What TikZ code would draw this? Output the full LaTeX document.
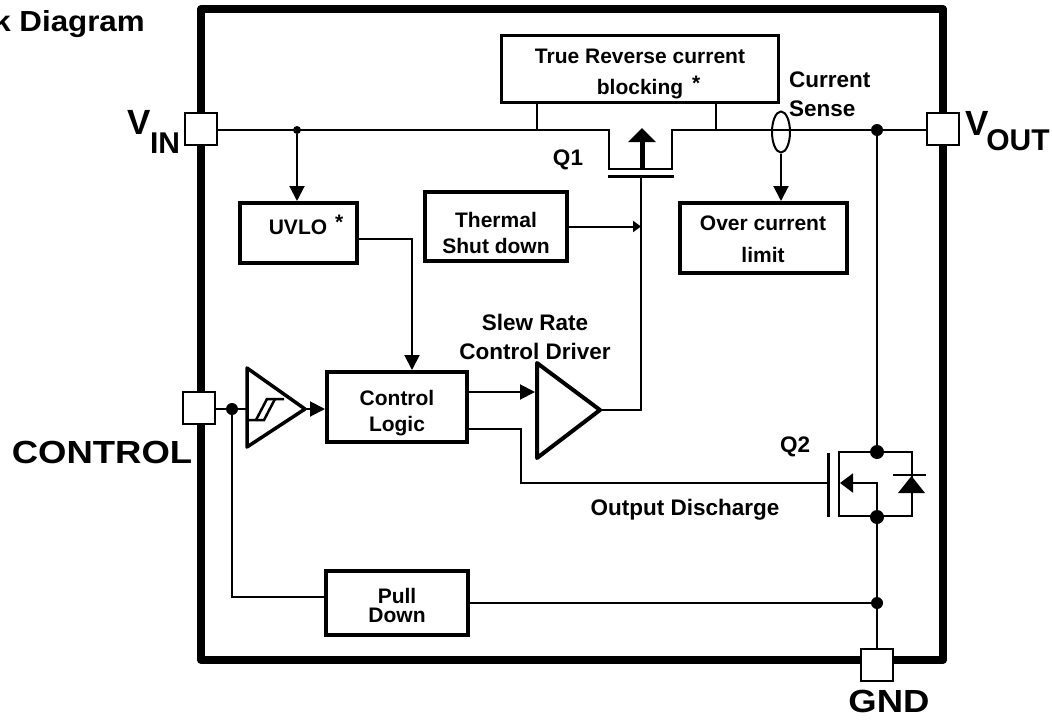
\documentclass[tikz,border=0pt]{standalone}
\usepackage{fontspec}
\setmainfont{Liberation Sans}
\usepackage{graphicx}
\usetikzlibrary{arrows.meta,shapes.geometric}
\begin{document}
\begin{tikzpicture}[x=1pt,y=-1pt,
  wire/.style={line width=2pt},
  arr/.style={-{Triangle[length=15pt,width=15pt]}},
  blk/.style={draw,line width=4pt,inner sep=0pt},
  txt/.style={inner sep=0pt,align=center},
  pin/.style={draw,fill=white,line width=2pt,minimum size=32pt,inner sep=0pt},
  jdot/.style={circle,fill,inner sep=0pt,minimum size=12pt},
  lbl/.style={inner sep=0pt,align=center,font=\fontsize{22.5}{29}\selectfont\bfseries},
  big/.style={inner sep=0pt,font=\fontsize{32}{32}\selectfont\bfseries}]
\useasboundingbox (0,0) rectangle (1052,720);
\fill[white] (0,0) rectangle (1052,720);

% title fragment
\node[inner sep=0pt,anchor=base east,font=\fontsize{29}{29}\selectfont\bfseries] (title) at (145,31) {\scalebox{1.08}[1]{k Diagram}};

% chip outline
\draw[line width=8pt,line join=round] (201,9) rectangle (943,660);

% blocks
\node[blk,line width=3pt,minimum width=277pt,minimum height=67pt] (trb) at (639.5,68.5) {};
\node[txt,font=\fontsize{21}{31}\selectfont\bfseries] (trbt) at (640,74) {True Reverse current\\blocking\rlap{\hspace{9pt}\raisebox{4pt}{*}}};
\node[blk,minimum width=117pt,minimum height=60pt] (uvlo) at (298.5,233) {};
\node[txt,font=\fontsize{21}{26}\selectfont\bfseries] (uvlot) at (298,224.5) {UVLO\rlap{\hspace{8pt}\raisebox{5pt}{*}}};
\node[blk,minimum width=142pt,minimum height=69pt] (therm) at (496,226.5) {};
\node[txt,font=\fontsize{21}{26}\selectfont\bfseries] (thermt) at (496,232.5) {Thermal\\Shut down};
\node[blk,minimum width=167pt,minimum height=70pt] (ocl) at (763.5,238) {};
\node[txt,font=\fontsize{21}{32}\selectfont\bfseries] (oclt) at (763,239) {Over current\\limit};
\node[blk,minimum width=140pt,minimum height=70pt] (ctl) at (397,407) {};
\node[txt,font=\fontsize{21}{26}\selectfont\bfseries] (ctlt) at (397,413.5) {Control\\Logic};
\node[blk,minimum width=142pt,minimum height=64pt] (pd) at (397,603) {};
\node[txt,font=\fontsize{21}{19}\selectfont\bfseries] (pdt) at (397,605) {Pull\\Down};

% driver triangle
\coordinate (drvA) at (537,363);
\coordinate (drvout) at (600,410);
\coordinate (drvB) at (537,458);
\draw[line width=4pt,line join=round] (drvA) -- (drvout) -- (drvB) -- cycle;
\coordinate (drvin) at (535,392);

% schmitt buffer
\coordinate (bufA) at (247,368);
\coordinate (bufout) at (305,409);
\coordinate (bufB) at (247,447);
\draw[line width=3.5pt,line join=round] (bufA) -- (bufout) -- (bufB) -- cycle;
\draw[line width=2.5pt] (249,420) -- (264,420) -- (275,399) -- (284,399);
\draw[line width=2.5pt] (256,420) -- (267,399) -- (275,399);

% labels
\node[lbl] (q1l) at (568,160) {Q1};
\node[lbl] (q2l) at (795,447) {Q2};
\node[lbl,align=left,anchor=west] (csl) at (789,94) {Current\\Sense};
\node[lbl] (srl) at (535,337) {Slew Rate\\Control Driver};
\node[lbl] (odl) at (685,510) {Output Discharge};

% pins
\node[pin] (vin) at (201,129) {};
\node[pin] (vout) at (943,129) {};
\node[pin] (ctrl) at (199,408) {};
\node[pin] (gnd) at (877,665) {};
\node[inner sep=0pt,font=\fontsize{35}{35}\selectfont\bfseries] (vinV) at (139,122) {V};
\node[inner sep=0pt,font=\fontsize{30}{30}\selectfont\bfseries] (vinI) at (165,143) {IN};
\node[inner sep=0pt,font=\fontsize{35}{35}\selectfont\bfseries] (voutV) at (977,123) {V};
\node[inner sep=0pt,font=\fontsize{30}{30}\selectfont\bfseries] (voutO) at (1018,140) {OUT};
\node[big] (ctrll) at (102,452) {\scalebox{1.14}[1]{CONTROL}};
\node[big] (gndl) at (889,701) {\scalebox{1.14}[1]{GND}};

% Q1 and supply path
\coordinate (q1a) at (609,130);
\coordinate (q1b) at (609,169);
\coordinate (q1c) at (672,169);
\coordinate (q1d) at (672,130);
\node[jdot,minimum size=8pt] (vindot) at (297,130) {};
\node[jdot] (voutdot) at (877,130) {};
\node[draw,ellipse,line width=2pt,minimum width=18pt,minimum height=41pt,inner sep=0pt] (cs) at (781,132) {};
\draw[wire] (vin.east |- q1a) -- (q1a) -- (q1b) -- (q1c) -- (q1d) -- (vout.west |- q1d);
\draw[line width=5pt,-{Triangle[length=14pt,width=27pt]}] (642,169) -- (642,128);
\draw[line width=3pt] (608,176) -- (674,176);
\draw[wire] (trb.south -| 537,0) -- (537,130);
\draw[wire] (trb.south -| 716,0) -- (716,130);
\coordinate (gtop) at (641,176);
\coordinate (gturn) at (641,410);
\draw[wire] (drvout) -- (gturn) -- (gtop);
\draw[wire,-{Triangle[length=8pt,width=11pt]}] (therm.east) -- (therm.east -| gtop);

% current sense
\draw[wire,arr] (cs.south) -- (cs.south |- ocl.north);

% UVLO
\draw[wire,arr] (vindot) -- (vindot |- uvlo.north);
\coordinate (uvturn) at (412,239);
\draw[wire,arr] ([yshift=-6pt]uvlo.east) -- (uvturn) -- (uvturn |- ctl.north);

% control logic outputs
\draw[wire,arr] ([yshift=15pt]ctl.east) -- (drvin);
\coordinate (odturn1) at (521,429);
\coordinate (odturn2) at (521,483);
\coordinate (q2g) at (828,483);
\draw[wire] ([yshift=-22pt]ctl.east) -- (odturn1) -- (odturn2) -- (q2g);

% control input
\node[jdot] (ctrldot) at (232,409) {};
\draw[wire] (ctrl.east |- ctrldot) -- (ctrldot) -- (bufA |- ctrldot);
\draw[wire,arr] (bufout) -- (ctl.west |- bufout);
\coordinate (pdturn) at (232,597);
\draw[wire] (ctrldot) -- (pdturn) -- ([yshift=6pt]pd.west);

% Q2
\node[jdot,minimum size=14pt] (q2top) at (877,452) {};
\node[jdot,minimum size=14pt] (q2bot) at (877,517) {};
\draw[wire] (voutdot) -- (q2top);
\draw[line width=2.5pt] (839,452) -- (912,452) -- (912,516) -- (839,516) -- cycle;
\draw[wire,-{Triangle[length=13pt,width=19pt]}] (q2bot) -- (877,483) -- (840,483);
\draw[line width=3pt] (828,453) -- (828,517);
\draw[line width=2.5pt] (893,475) -- (926,475);
\fill (898,493) -- (925,493) -- (911.5,476) -- cycle;

% ground path
\node[jdot] (pddot) at (877,603) {};
\draw[wire] (q2bot) -- (pddot) -- (gnd.north);
\draw[wire] (pd.east) -- (pddot);
\end{tikzpicture}
\end{document}
